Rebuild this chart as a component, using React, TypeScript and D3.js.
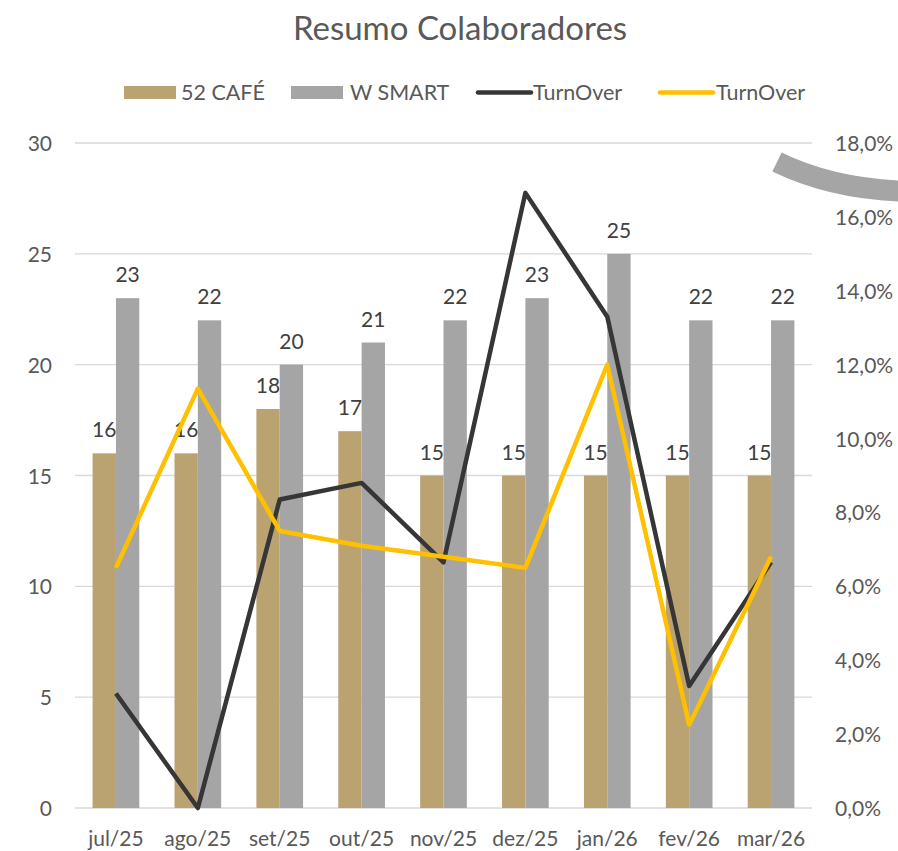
import React, { useEffect, useRef } from 'react';
import * as d3 from 'd3';

const months = ['jul/25', 'ago/25', 'set/25', 'out/25', 'nov/25', 'dez/25', 'jan/26', 'fev/26', 'mar/26'];
const cafe = [16, 16, 18, 17, 15, 15, 15, 15, 15];
const smart = [23, 22, 20, 21, 22, 23, 25, 22, 22];
const turnoverDark = [3.1, 0, 8.35, 8.8, 6.65, 16.65, 13.3, 3.3, 6.65];
const turnoverGold = [6.5, 11.35, 7.5, 7.1, 6.8, 6.5, 12.0, 2.25, 6.8];
const leftTicks = [0, 5, 10, 15, 20, 25, 30];
const rightTicks = [0, 2, 4, 6, 8, 10, 12, 14, 16, 18];

const FONT = 'Lato, "Open Sans", sans-serif';
const TAN = '#BBA371';
const GREY = '#A5A5A5';
const DARK = '#363636';
const GOLD = '#FFC000';

export default function App() {
  const svgRef = useRef<SVGSVGElement>(null);

  useEffect(() => {
    const svg = d3.select(svgRef.current);
    svg.selectAll('*').remove();

    const width = 898;
    const height = 851;
    const margin = { top: 143, right: 86, bottom: 43, left: 75 };

    const x = d3.scaleBand().domain(months).range([margin.left, width - margin.right]).paddingInner(0.43).paddingOuter(0.215);
    const x0 = d3.scaleBand().domain(months).range([margin.left, width - margin.right]);
    const sub = d3.scaleBand().domain(['cafe', 'smart']).range([0, x.bandwidth()]);
    const y = d3.scaleLinear().domain([0, 30]).range([height - margin.bottom, margin.top]);
    const y2 = d3.scaleLinear().domain([0, 18]).range([height - margin.bottom, margin.top]);

    // title
    svg.append('text')
      .attr('x', 460).attr('y', 40)
      .attr('text-anchor', 'middle')
      .attr('font-family', FONT).attr('font-size', 33)
      .attr('fill', '#595959')
      .text('Resumo Colaboradores');

    // gridlines
    svg.append('g').selectAll('line')
      .data(leftTicks)
      .join('line')
      .attr('x1', margin.left).attr('x2', width - margin.right)
      .attr('y1', d => y(d)).attr('y2', d => y(d))
      .attr('stroke', '#D9D9D9').attr('stroke-width', 1.3);

    // left axis labels
    svg.append('g').selectAll('text')
      .data(leftTicks)
      .join('text')
      .attr('x', 52).attr('y', d => y(d) + 8)
      .attr('text-anchor', 'end')
      .attr('font-family', FONT).attr('font-size', 21)
      .attr('fill', '#595959')
      .text(d => d);

    // right axis labels
    svg.append('g').selectAll('text')
      .data(rightTicks)
      .join('text')
      .attr('x', 835).attr('y', d => y2(d) + 8)
      .attr('font-family', FONT).attr('font-size', 21)
      .attr('fill', '#595959')
      .text(d => d.toFixed(1).replace('.', ',') + '%');

    // x labels
    svg.append('g').selectAll('text')
      .data(months)
      .join('text')
      .attr('x', d => x0(d)! + x0.bandwidth() / 2).attr('y', 846)
      .attr('text-anchor', 'middle')
      .attr('font-family', FONT).attr('font-size', 21)
      .attr('fill', '#595959')
      .text(d => d);

    // bars
    const series = [
      { key: 'cafe', values: cafe, color: TAN },
      { key: 'smart', values: smart, color: GREY },
    ];
    series.forEach(s => {
      const g = svg.append('g');
      g.selectAll('rect')
        .data(s.values)
        .join('rect')
        .attr('x', (d, i) => x(months[i])! + sub(s.key)!)
        .attr('y', d => y(d))
        .attr('width', sub.bandwidth())
        .attr('height', d => y(0) - y(d))
        .attr('fill', s.color);
      g.selectAll('text')
        .data(s.values)
        .join('text')
        .attr('x', (d, i) => x(months[i])! + sub(s.key)! + sub.bandwidth() / 2)
        .attr('y', d => y(d) - 16)
        .attr('text-anchor', 'middle')
        .attr('font-family', FONT).attr('font-size', 21)
        .attr('fill', '#404040')
        .text(d => d);
    });

    // lines
    const line = d3.line<number>()
      .x((d, i) => x0(months[i])! + x0.bandwidth() / 2)
      .y(d => y2(d));
    svg.append('path').datum(turnoverDark)
      .attr('fill', 'none').attr('stroke', DARK).attr('stroke-width', 4.5)
      .attr('stroke-linejoin', 'round')
      .attr('d', line);
    svg.append('path').datum(turnoverGold)
      .attr('fill', 'none').attr('stroke', GOLD).attr('stroke-width', 4.5)
      .attr('stroke-linejoin', 'round')
      .attr('d', line);

    // legend
    const legend = svg.append('g').attr('font-family', FONT).attr('font-size', 21.5).attr('fill', '#595959');
    legend.append('rect').attr('x', 124).attr('y', 86).attr('width', 52).attr('height', 13).attr('fill', TAN);
    legend.append('text').attr('x', 181).attr('y', 100).text('52 CAFÉ');
    legend.append('rect').attr('x', 291).attr('y', 86).attr('width', 52).attr('height', 13).attr('fill', GREY);
    legend.append('text').attr('x', 350).attr('y', 100).text('W SMART');
    legend.append('line').attr('x1', 478).attr('x2', 531).attr('y1', 92.5).attr('y2', 92.5)
      .attr('stroke', DARK).attr('stroke-width', 4.5).attr('stroke-linecap', 'round');
    legend.append('text').attr('x', 533).attr('y', 100).text('TurnOver');
    legend.append('line').attr('x1', 660).attr('x2', 713).attr('y1', 92.5).attr('y2', 92.5)
      .attr('stroke', GOLD).attr('stroke-width', 4.5).attr('stroke-linecap', 'round');
    legend.append('text').attr('x', 716).attr('y', 100).text('TurnOver');

    // stray grey arc shape (top right)
    svg.append('path')
      .attr('d', 'M777,162 Q830,188 900,191')
      .attr('fill', 'none').attr('stroke', GREY).attr('stroke-width', 21);
  }, []);

  return (
    <svg ref={svgRef} width={898} height={851}
      style={{ position: 'absolute', left: 0, top: 0, background: '#fff' }} />
  );
}
